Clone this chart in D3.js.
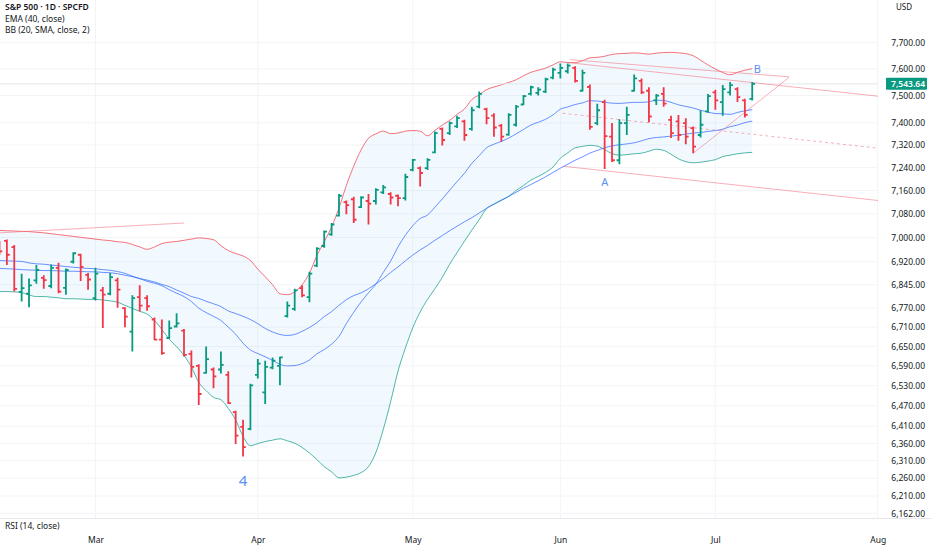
<!DOCTYPE html>
<html><head><meta charset="utf-8">
<script src="https://cdn.jsdelivr.net/npm/d3@7"></script>
<style>
html,body{margin:0;padding:0;background:#fff;}
svg{display:block;font-family:"Noto Sans","DejaVu Sans",sans-serif;}
</style></head><body>
<svg id="chart" width="932" height="550"></svg>
<script>
// ---- sessions (trading days) ----
const febSessions = [10,11,12,13,17,18,19,20,23,24,25,26,27];
const marSessions = [2,3,4,5,6,9,10,11,12,13,16,17,18,19,20,23,24,25,26,27,30,31];
const aprSessions = [1,2,6,7,8,9,10,13,14,15,16,17,20,21,22,23,24,27,28,29,30];
const maySessions = [1,4,5,6,7,8,11,12,13,14,15,18,19,20,21,22,26,27,28,29];
const junSessions = [1,2,3,4,5,8,9,10,11,12,15,16,17,18,22,23,24,25,26,29,30];
const julSessions = [1,2,6,7,8,9,10,13,14,15,16,17,20,21,22,23,24,27,28,29,30,31];
const augSessions = [3,4,5,6,7];
const monthLabels = ["Mar","Apr","May","Jun","Jul","Aug"];

// ---- OHLC ----
const opens = [6979,6989,6968,6822,6816,6859,6867,6841,6900,6835,6920,6943,6877,
 6802,6827,6816,6859,6770,6696,6805,6802,6734,6671,6676,6712,6699,6627,6590,6569,6579,6579,6563,6451,6408,6402,
 6563,6510,6585,6590,6745,6768,6834,6805,6907,6972,7011,7074,7120,7130,7103,7124,7124,7154,7148,7142,7134,
 7232,7238,7238,7294,7378,7363,7387,7405,7378,7459,7450,7426,7390,7357,7393,7467,7506,7510,7515,7567,
 7585,7591,7604,7518,7532,7399,7476,7350,7266,7399,7518,7555,7518,7482,7506,7411,7405,7399,7381,7356,7442,
 7512,7476,7512,7524,7482,7488];
const highs = [6989,6994,6975,6881,6865,6909,6876,6911,6917,6898,6951,6946,6883,
 6900,6838,6883,6868,6773,6811,6843,6811,6740,6734,6731,6754,6704,6637,6595,6650,6585,6634,6574,6455,6429,6536,
 6611,6606,6616,6618,6791,6832,6843,6887,6968,7024,7049,7148,7126,7139,7140,7148,7168,7179,7154,7146,7218,
 7270,7244,7273,7369,7383,7405,7426,7411,7459,7515,7455,7435,7396,7435,7465,7502,7537,7531,7567,7604,
 7620,7620,7610,7597,7541,7470,7485,7399,7413,7459,7579,7564,7531,7506,7531,7426,7429,7417,7387,7446,7506,
 7522,7539,7551,7531,7488,7551];
const lows = [6943,6909,6823,6791,6773,6848,6832,6834,6818,6813,6914,6857,6829,
 6794,6707,6811,6771,6710,6634,6759,6762,6669,6624,6674,6709,6619,6555,6472,6567,6522,6567,6475,6358,6322,6398,
 6552,6475,6580,6531,6740,6762,6805,6789,6903,6966,7006,7071,7079,7049,7100,7044,7112,7148,7112,7106,7126,
 7227,7174,7232,7291,7318,7356,7381,7335,7371,7453,7395,7350,7332,7353,7387,7465,7500,7500,7510,7561,
 7564,7583,7549,7515,7375,7391,7235,7260,7252,7356,7515,7506,7402,7465,7459,7345,7335,7323,7291,7347,7437,
 7448,7426,7500,7476,7419,7482];
const closes = [6954,6943,6832,6834,6843,6893,6860,6900,6823,6893,6948,6903,6862,
 6881,6813,6870,6829,6743,6802,6778,6776,6671,6629,6707,6722,6624,6587,6505,6611,6558,6593,6478,6382,6349,6531,
 6597,6587,6606,6616,6778,6827,6811,6881,6963,7020,7044,7142,7110,7060,7136,7115,7162,7171,7136,7134,7207,
 7267,7221,7267,7363,7338,7399,7417,7356,7446,7506,7417,7383,7350,7429,7459,7498,7531,7522,7561,7597,
 7604,7612,7555,7585,7385,7446,7352,7266,7399,7429,7564,7512,7423,7500,7470,7363,7356,7350,7314,7393,7498,
 7482,7524,7539,7494,7429,7543.64];

// ---- indicators ----
const bbUpper = [7024,7023,7022,7021,7020,7018,7016,7013,7010,7007,7004,7001,6998,
 6995,6992,6990,6986,6984,6977,6969,6961,6969,6980,6985,6987,6991,6995,6999,6997,6993,6973,6957,6947,6939,6924,
 6896,6871,6845,6816,6813,6822,6845,6883,6940,6986,7036,7100,7178,7245,7303,7344,7360,7370,7361,7363,7370,
 7372,7370,7353,7373,7392,7409,7431,7451,7485,7503,7522,7532,7540,7549,7559,7574,7587,7595,7603,7615,
 7627,7624,7624,7631,7642,7644,7648,7655,7658,7659,7661,7659,7656,7660,7662,7663,7661,7658,7650,7633,7615,
 7600,7586,7578,7587,7595,7601];
const bbLower = [6823,6823,6822,6820,6812,6807,6807,6805,6803,6800,6800,6799,6798,
 6798,6796,6793,6789,6779,6769,6760,6751,6731,6703,6672,6649,6622,6587,6540,6515,6495,6488,6462,6428,6380,6353,
 6359,6365,6369,6373,6367,6360,6348,6332,6313,6293,6278,6261,6263,6268,6276,6293,6333,6400,6482,6574,6645,
 6708,6758,6798,6832,6869,6912,6950,6988,7025,7060,7098,7113,7126,7140,7160,7177,7196,7209,7223,7242,
 7273,7292,7310,7315,7319,7316,7304,7289,7284,7286,7289,7291,7298,7305,7301,7287,7271,7261,7257,7259,7263,
 7268,7279,7284,7289,7292,7294];
const bbBasis = [6924,6923,6922,6921,6916,6913,6912,6909,6907,6904,6902,6900,6898,
 6897,6894,6892,6888,6882,6873,6865,6856,6850,6842,6829,6818,6807,6791,6770,6756,6744,6731,6710,6688,6660,6639,
 6628,6618,6607,6595,6590,6591,6597,6608,6627,6640,6657,6681,6721,6757,6790,6819,6847,6885,6922,6969,7008,
 7040,7064,7076,7103,7131,7161,7191,7220,7255,7282,7310,7323,7333,7345,7360,7376,7392,7402,7413,7429,
 7450,7458,7467,7473,7481,7480,7476,7472,7471,7473,7475,7475,7477,7483,7482,7475,7466,7460,7454,7446,7439,
 7434,7433,7431,7438,7444,7448];
const ema40 = [6898,6897,6896,6894,6893,6892,6891,6891,6890,6889,6889,6888,6887,
 6887,6885,6884,6881,6876,6871,6865,6860,6854,6846,6839,6828,6818,6807,6801,6792,6784,6775,6761,6753,6744,6734,
 6721,6706,6695,6687,6684,6687,6697,6709,6724,6743,6759,6779,6797,6810,6819,6832,6848,6865,6885,6903,6923,
 6942,6959,6974,6991,7007,7023,7038,7053,7067,7083,7099,7113,7127,7140,7154,7168,7181,7194,7208,7223,
 7238,7252,7266,7278,7291,7301,7310,7317,7321,7324,7328,7335,7343,7347,7349,7352,7355,7359,7363,7365,7369,
 7372,7377,7386,7392,7401,7406];

// ---- price axis ticks ----
const priceTicks = [7700,7600,7500,7400,7320,7240,7160,7080,7000,6920,6845,6770,6710,6650,6590,6530,6470,6410,6360,6310,6260,6210,6162];

// ---- drawings (bar index, price) ----
const leftTrend = [[0,7016],[25,7049]];
const channelUpper = [[77,7624],[119.3,7497]];
const channelMid = [[76.3,7435],[119.3,7308]];
const channelLower = [[76.3,7245],[119.3,7125]];
const wedgeTop = [[77.3,7635],[107,7570]];
const wedgeBottom = [[94,7291],[107,7568]];
const waveLabels = ["4","A","B"];
const waveBars = [33,82,102.7];
const wavePrices = [6254,7190,7602];

// ---------------- drawing ----------------
const months = [["2026-02",febSessions],["2026-03",marSessions],["2026-04",aprSessions],["2026-05",maySessions],["2026-06",junSessions],["2026-07",julSessions],["2026-08",augSessions]];
const sessions = months.flatMap(([m,days]) => days.map(d => `${m}-${String(d).padStart(2,"0")}`));
const monthStarts = months.slice(1).map(([m]) => sessions.findIndex(s => s.startsWith(m)));

const paneR = 878, paneB = 518;
const x = d3.scaleLinear().domain([0, monthStarts[5]]).range([-0.5, 877.7]);
const y = d3.scalePow().exponent(-0.5).domain([6162, 7700]).range([513.3, 42.7]);

const svg = d3.select("#chart");
svg.append("rect").attr("width",932).attr("height",550).attr("fill","#fff");
svg.append("defs").append("clipPath").attr("id","pane").append("rect")
  .attr("x",0).attr("y",0).attr("width",paneR).attr("height",paneB);

// grid
const grid = svg.append("g");
grid.selectAll("line.h").data(priceTicks).join("line")
  .attr("x1",0).attr("x2",paneR).attr("y1",d=>y(d)).attr("y2",d=>y(d))
  .attr("stroke","#f3f4f7").attr("stroke-width",1);
grid.selectAll("line.v").data(monthStarts).join("line")
  .attr("x1",d=>x(d)).attr("x2",d=>x(d)).attr("y1",0).attr("y2",paneB)
  .attr("stroke","#f3f4f7").attr("stroke-width",1);

const pane = svg.append("g").attr("clip-path","url(#pane)");
const idx = d3.range(opens.length);

// BB fill
pane.append("path").datum(idx)
  .attr("d", d3.area().x(i=>x(i)).y0(i=>y(bbLower[i])).y1(i=>y(bbUpper[i])).curve(d3.curveMonotoneX))
  .attr("fill","rgba(33,150,243,0.06)");

const line = arr => d3.line().x(i=>x(i)).y(i=>y(arr[i])).curve(d3.curveMonotoneX);
[[bbUpper,"#f23645"],[bbLower,"#089981"],[bbBasis,"#2962ff"],[ema40,"#2962ff"]].forEach(([arr,col])=>{
  pane.append("path").datum(idx).attr("d",line(arr)(idx))
    .attr("fill","none").attr("stroke",col).attr("stroke-width",1).attr("stroke-opacity",0.7);
});

// last price line
const last = closes[closes.length-1];
pane.append("line").attr("x1",0).attr("x2",paneR).attr("y1",y(last)).attr("y2",y(last))
  .attr("stroke","#e3e6ec").attr("stroke-width",1);

// drawings
const seg = d3.line().x(d=>x(d[0])).y(d=>y(d[1]));
[[leftTrend,null],[channelUpper,null],[channelMid,"3,3"],[channelLower,null],[wedgeTop,null],[wedgeBottom,null]].forEach(([pts,dash])=>{
  pane.append("path").attr("d",seg(pts)).attr("fill","none")
    .attr("stroke","#f26d7d").attr("stroke-opacity",0.55).attr("stroke-width",1)
    .attr("stroke-dasharray",dash);
});

// OHLC bars
const tick = 2.8;
pane.selectAll("path.bar").data(idx).join("path").attr("class","bar")
  .attr("d", i => {
    const cx = x(i);
    return `M${cx},${y(highs[i])}V${y(lows[i])}M${cx-tick},${y(opens[i])}H${cx}M${cx},${y(closes[i])}H${cx+tick}`;
  })
  .attr("fill","none").attr("stroke-width",1.8)
  .attr("stroke", i => closes[i] >= opens[i] ? "#089981" : "#f23645");

// wave labels
pane.selectAll("text.wave").data(waveLabels).join("text").attr("class","wave")
  .attr("x",(d,k)=>x(waveBars[k])).attr("y",(d,k)=>y(wavePrices[k]))
  .attr("text-anchor","middle").attr("dominant-baseline","central")
  .attr("font-size",(d,k)=>k===0?15:11).attr("fill","#5b92ee").text(d=>d);

// price axis
const yAxis = svg.append("g").attr("transform","translate(925,0)")
  .call(d3.axisRight(y).tickValues(priceTicks).tickFormat(d3.format(",.2f")).tickSize(0).tickPadding(0));
yAxis.select(".domain").remove();
yAxis.selectAll("text").attr("text-anchor","end").attr("x",0)
  .attr("font-family","'Noto Sans','DejaVu Sans',sans-serif").attr("font-size",8.5).attr("fill","#131722");

// last price badge
svg.append("rect").attr("x",886).attr("y",y(last)-6).attr("width",41).attr("height",12).attr("rx",1).attr("fill","#089981");
svg.append("text").attr("x",925).attr("y",y(last)).attr("dominant-baseline","central").attr("text-anchor","end")
  .attr("font-size",8.5).attr("font-weight",600).attr("fill","#fff").text(d3.format(",.2f")(last));

svg.append("text").attr("x",896).attr("y",10).attr("font-size",8).attr("fill","#131722").text("USD");

// pane separator
svg.append("line").attr("x1",0).attr("x2",932).attr("y1",paneB+0.5).attr("y2",paneB+0.5).attr("stroke","#e6e8ee");

// time axis
const xAxis = svg.append("g").attr("transform","translate(0,537)")
  .call(d3.axisBottom(x).tickValues(monthStarts).tickFormat((d,k)=>monthLabels[k]).tickSize(0).tickPadding(0));
xAxis.select(".domain").remove();
xAxis.selectAll("text").attr("font-family","'Noto Sans','DejaVu Sans',sans-serif").attr("font-size",8.5).attr("fill","#131722");

// legend
const legend = [["S&P 500 · 1D · SPCFD",600],["EMA (40, close)",400],["BB (20, SMA, close, 2)",400]];
svg.selectAll("text.leg").data(legend).join("text").attr("class","leg")
  .attr("x",5).attr("y",(d,k)=>10+k*11.5).attr("font-size",8.5).attr("font-weight",d=>d[1]).attr("fill","#131722").text(d=>d[0]);

svg.append("text").attr("x",5).attr("y",529).attr("font-size",8.5).attr("fill","#131722").text("RSI (14, close)");
</script>
</body></html>
